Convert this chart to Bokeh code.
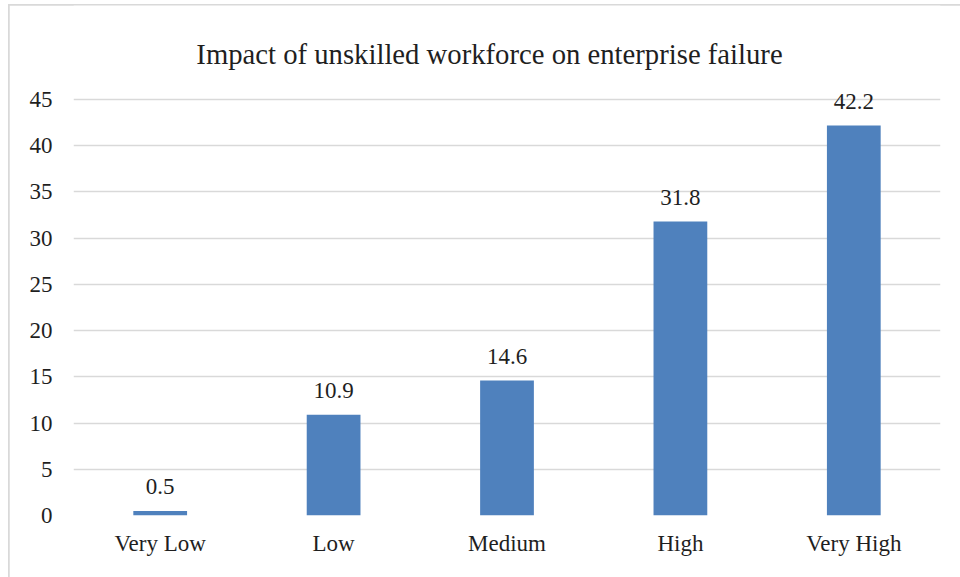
from bokeh.plotting import figure
from bokeh.models import (ColumnDataSource, FactorRange, Range1d, FixedTicker,
                          LabelSet, Label)
from bokeh.embed import file_html
from bokeh.resources import INLINE

categories = ["Very Low", "Low", "Medium", "High", "Very High"]
values = [0.5, 10.9, 14.6, 31.8, 42.2]
value_labels = ["0.5", "10.9", "14.6", "31.8", "42.2"]
y_ticks = [0, 5, 10, 15, 20, 25, 30, 35, 40, 45]
title_text = "Impact of unskilled workforce on enterprise failure"

FONT = "Liberation Serif"
TXT = "#1f1f1f"

W, H = 951, 572
BOTTOM = 62
frame_h = H - BOTTOM           # frame spans full height above x-axis
px_per_unit = 416 / 45.0        # 0 -> 45 spans 416 px in the reference
y_end = frame_h / px_per_unit

src = ColumnDataSource(dict(cat=categories, val=values, lab=value_labels))

p = figure(width=W, height=H, output_backend="svg", toolbar_location=None,
           x_range=FactorRange(factors=categories, range_padding=0),
           y_range=Range1d(0, y_end),
           min_border_left=64, min_border_right=20,
           min_border_top=0, min_border_bottom=BOTTOM)
p.margin = (5, 0, 0, 9)
p.styles = {"outline": "2px solid #d9d9d9", "outline-offset": "-1px"}

p.vbar(x="cat", top="val", width=0.31, source=src,
       fill_color="#4f81bd", line_color=None)

p.outline_line_color = None
p.background_fill_color = "white"
p.border_fill_color = "white"

p.xgrid.grid_line_color = None
p.ygrid.grid_line_color = "#d9d9d9"
p.ygrid.grid_line_width = 1.3
p.yaxis.ticker = FixedTicker(ticks=y_ticks)

for ax in (p.xaxis[0], p.yaxis[0]):
    ax.axis_line_color = None
    ax.major_tick_line_color = None
    ax.minor_tick_line_color = None
    ax.major_tick_out = 0
    ax.major_tick_in = 0
    ax.major_label_text_font = FONT
    ax.major_label_text_font_size = "23px"
    ax.major_label_text_color = TXT

p.yaxis.major_label_standoff = 21
p.xaxis.major_label_standoff = 15

labels = LabelSet(x="cat", y="val", text="lab", source=src,
                  text_align="center", text_baseline="alphabetic",
                  y_offset=16.5, text_font=FONT, text_font_size="23px",
                  text_color=TXT)
p.add_layout(labels)

title = Label(x=2.5, y=45, x_units="data", y_units="data", text=title_text,
              x_offset=-17.5, y_offset=46, text_align="center",
              text_baseline="alphabetic", text_font=FONT,
              text_font_size="28.7px", text_color=TXT)
p.add_layout(title)

open("out.html", "w").write(file_html(p, INLINE))
